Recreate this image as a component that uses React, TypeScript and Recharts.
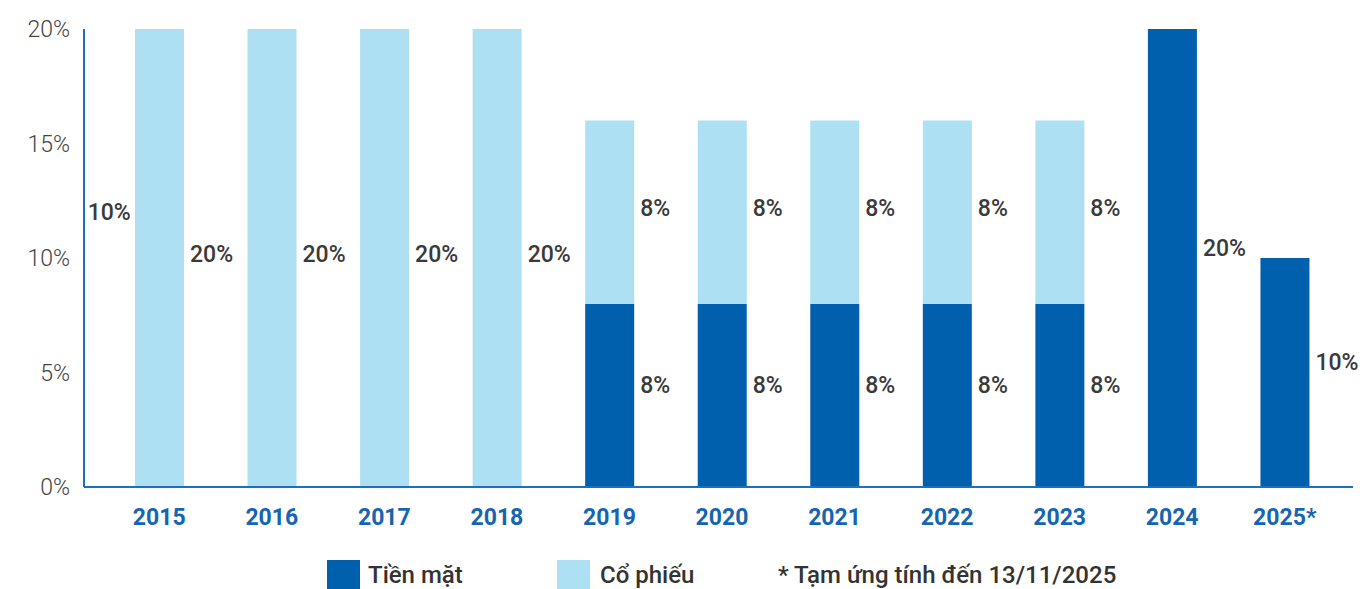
import React from 'react';
import { BarChart, Bar, XAxis, YAxis, LabelList, ReferenceDot } from 'recharts';

const years = ['2015', '2016', '2017', '2018', '2019', '2020', '2021', '2022', '2023', '2024', '2025*'];
const cash = [0, 0, 0, 0, 8, 8, 8, 8, 8, 20, 10];
const stock = [20, 20, 20, 20, 8, 8, 8, 8, 8, 0, 0];
const yTicks = [0, 5, 10, 15, 20];
// stray label drawn next to the axis on 2015 in the original
const note2015 = { year: '2015', value: 12, text: '10%' };

const DARK = '#0060AD';
const LIGHT = '#ADE0F2';
const AXIS = '#1F6FBF';
const FONT = 'Roboto, "Noto Sans", sans-serif';

const data = years.map((y, i) => ({ year: y, cash: cash[i], stock: stock[i] }));

const makeLabel = (shift: number) => (props: any) => {
  const { x, y, width, height, value } = props;
  if (!value) return null;
  return (
    <text
      x={Number(x) + Number(width) + 6}
      y={Number(y) + Number(height) / 2 + shift}
      dominantBaseline="central"
      fill="#3a3a3a"
      fontFamily={FONT}
      fontWeight={500}
      fontSize={23}
    >
      {value}%
    </text>
  );
};

const legendText: React.CSSProperties = {
  position: 'absolute',
  top: 561,
  fontSize: 24,
  color: '#333',
  fontFamily: FONT,
  fontWeight: 500,
  lineHeight: '28px',
  whiteSpace: 'nowrap',
};

const LegendBox = ({ color, label, left, textLeft }: { color: string; label: string; left: number; textLeft: number }) => (
  <>
    <div style={{ position: 'absolute', left, top: 560, width: 33, height: 29, background: color }} />
    <div style={{ ...legendText, left: textLeft }}>{label}</div>
  </>
);

export default function App() {
  return (
    <div style={{ position: 'fixed', top: 0, left: 0, width: 1368, height: 589, overflow: 'hidden', background: '#fff' }}>
      <BarChart
        width={1368}
        height={540}
        data={data}
        margin={{ top: 29, right: 15, left: 0, bottom: 0 }}
        barSize={49}
      >
        <XAxis
          dataKey="year"
          height={53}
          padding={{ left: 19, right: 12 }}
          axisLine={{ stroke: AXIS, strokeWidth: 2 }}
          tickLine={false}
          tickMargin={16}
          tick={{ fill: '#1565B0', fontSize: 23, fontWeight: 700, fontFamily: FONT }}
        />
        <YAxis
          width={84}
          domain={[0, 20]}
          ticks={yTicks}
          tickFormatter={(v) => `${v}%`}
          axisLine={{ stroke: AXIS, strokeWidth: 2 }}
          tickLine={false}
          tickMargin={8}
          tick={{ fill: '#444', fontSize: 23, fontWeight: 300, fontFamily: FONT }}
        />
        <Bar dataKey="cash" stackId="a" fill={DARK} isAnimationActive={false}>
          <LabelList dataKey="cash" content={makeLabel(-10)} />
        </Bar>
        <Bar dataKey="stock" stackId="a" fill={LIGHT} isAnimationActive={false}>
          <LabelList dataKey="stock" content={makeLabel(-4)} />
        </Bar>
        <ReferenceDot
          x={note2015.year}
          y={note2015.value}
          r={0}
          ifOverflow="visible"
          label={(p: any) => (
            <text
              x={Number(p.viewBox?.x ?? 0) - 50}
              y={Number(p.viewBox?.y ?? 0)}
              textAnchor="middle"
              dominantBaseline="central"
              fill="#3a3a3a"
              fontFamily={FONT}
              fontWeight={500}
              fontSize={23}
            >
              {note2015.text}
            </text>
          )}
        />
      </BarChart>
      <LegendBox color={DARK} label="Tiền mặt" left={327} textLeft={368} />
      <LegendBox color={LIGHT} label="Cổ phiếu" left={557} textLeft={600} />
      <div style={{ ...legendText, left: 778 }}>* Tạm ứng tính đến 13/11/2025</div>
    </div>
  );
}
